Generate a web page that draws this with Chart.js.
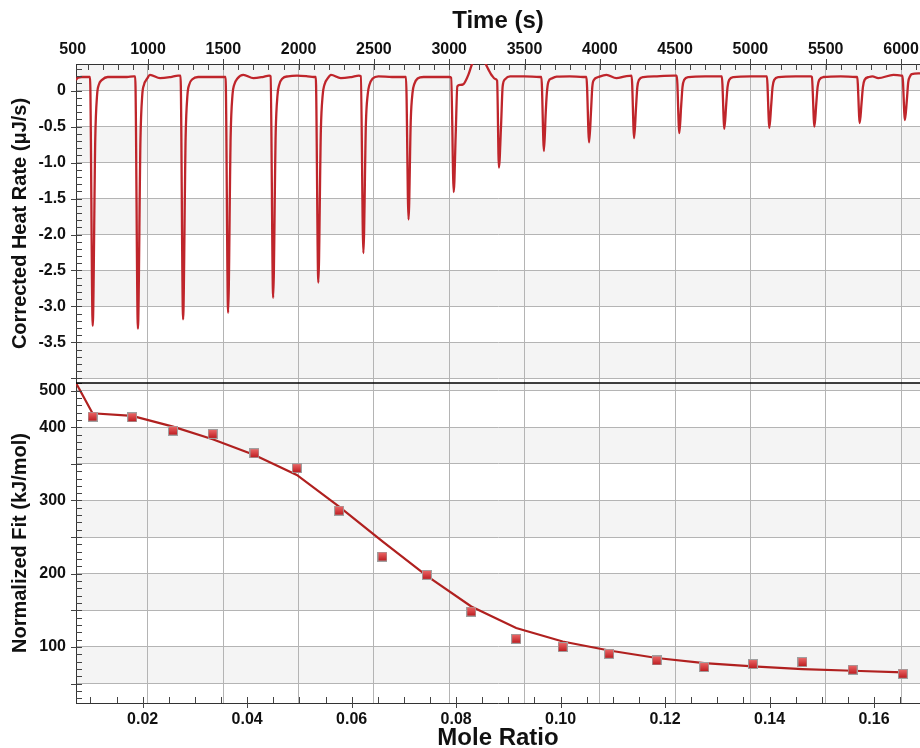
<!DOCTYPE html>
<html>
<head>
<meta charset="utf-8">
<script src="https://cdn.jsdelivr.net/npm/chart.js@4.4.1/dist/chart.umd.min.js"></script>
<style>
  html, body { margin: 0; padding: 0; background: #fff; }
  #wrap { position: relative; width: 920px; height: 748px; overflow: hidden; }
  #wrap canvas { position: absolute; left: 0; top: 0; }
</style>
</head>
<body>
<div id="wrap">
  <canvas id="heat" width="920" height="748"></canvas>
  <canvas id="fit" width="920" height="748"></canvas>
</div>
<script>
// thermogram, one line per injection (time in s, rate in uJ/s)
const heatTime = [
  522, 535, 560, 600, 615, 633, 650, 662, 673, 695, 733, 790, 860, 905,
  915, 933, 950, 962, 973, 995, 1013, 1080, 1150, 1200,
  1216, 1233, 1250, 1262, 1273, 1295, 1333, 1420, 1500,
  1515, 1532, 1549, 1561, 1572, 1594, 1633, 1700, 1760, 1805,
  1814, 1831, 1848, 1860, 1871, 1893, 1931, 1990, 2060, 2100,
  2114, 2131, 2148, 2160, 2171, 2193, 2215, 2280, 2350, 2400,
  2413, 2430, 2447, 2459, 2470, 2492, 2530, 2620, 2700,
  2713, 2730, 2745, 2757, 2768, 2790, 2830, 2920, 3000,
  3013, 3030, 3043, 3054, 3072, 3094, 3106, 3127, 3150, 3165, 3190, 3237, 3259, 3282, 3304,
  3318, 3330, 3344, 3355, 3371, 3404, 3500, 3600,
  3612, 3629, 3641, 3648, 3658, 3681, 3714, 3800, 3890,
  3911, 3929, 3942, 3950, 3961, 3990, 4044, 4110, 4170,
  4211, 4228, 4240, 4249, 4260, 4289, 4380, 4490,
  4511, 4528, 4540, 4549, 4560, 4589, 4700, 4800,
  4810, 4827, 4839, 4848, 4859, 4888, 5000, 5100,
  5109, 5126, 5138, 5147, 5158, 5187, 5300, 5400,
  5408, 5425, 5437, 5446, 5457, 5486, 5600, 5700,
  5709, 5726, 5738, 5747, 5758, 5787, 5810, 5849, 5950, 6000,
  6009, 6026, 6038, 6048, 6060, 6071, 6126
];
const heatRate = [
  0.15, 0.18, 0.19, 0.19, 0.19, -3.27, -0.66, -0.06, 0.08, 0.15, 0.19, 0.19, 0.19, 0.20,
  0.20, -3.31, -0.68, -0.06, 0.08, 0.17, 0.22, 0.175, 0.19, 0.21,
  0.21, -3.18, -0.64, -0.06, 0.08, 0.16, 0.19, 0.19, 0.19,
  0.19, -3.09, -0.62, -0.06, 0.08, 0.17, 0.22, 0.175, 0.19, 0.21,
  0.20, -2.88, -0.58, -0.06, 0.08, 0.17, 0.20, 0.21, 0.20, 0.19,
  0.19, -2.67, -0.54, -0.06, 0.08, 0.17, 0.22, 0.175, 0.19, 0.21,
  0.20, -2.26, -0.45, -0.05, 0.08, 0.17, 0.20, 0.19, 0.19,
  0.19, -1.79, -0.40, -0.02, 0.09, 0.17, 0.19, 0.19, 0.19,
  0.18, -1.41, -0.62, 0.06, 0.08, 0.09, 0.125, 0.22, 0.36, 0.42, 0.50, 0.39, 0.30, 0.215, 0.165,
  0.14, -1.07, -0.50, 0.06, 0.16, 0.20, 0.20, 0.19,
  0.19, -0.84, -0.30, -0.04, 0.12, 0.17, 0.195, 0.20, 0.19,
  0.19, -0.72, -0.27, 0.05, 0.15, 0.19, 0.22, 0.175, 0.20,
  0.21, -0.66, -0.25, 0.05, 0.15, 0.19, 0.20, 0.21,
  0.21, -0.59, -0.22, 0.05, 0.15, 0.19, 0.20, 0.20,
  0.20, -0.53, -0.20, 0.05, 0.15, 0.19, 0.20, 0.20,
  0.20, -0.52, -0.20, 0.05, 0.15, 0.19, 0.20, 0.20,
  0.19, -0.50, -0.19, 0.05, 0.15, 0.19, 0.20, 0.19,
  0.19, -0.45, -0.17, 0.05, 0.15, 0.19, 0.20, 0.175, 0.22, 0.21,
  0.21, -0.41, -0.15, 0.12, 0.20, 0.23, 0.24
];

// integrated heats per injection
const moleRatio = [0.0104, 0.0180, 0.0258, 0.0334, 0.0414, 0.0495, 0.0576, 0.0659, 0.0744, 0.0829,
  0.0915, 0.1004, 0.1093, 0.1184, 0.1275, 0.1368, 0.1463, 0.1559, 0.1655];
const injectionHeat = [414.5, 413.6, 395.4, 390.9, 364.5, 344.1, 286.2, 223.5, 198.5, 148.4,
  111.2, 99.9, 90.7, 81.6, 72.6, 76.7, 79.4, 68.9, 63.4];

// fitted model
const fitRatio = [0.0072, 0.0104, 0.0180, 0.0258, 0.0334, 0.0414, 0.0495, 0.0576, 0.0659, 0.0744,
  0.0829, 0.0915, 0.1004, 0.1093, 0.1184, 0.1275, 0.1368, 0.1463, 0.1559, 0.1655];
const fitHeat = [461, 419.1, 415.4, 400.8, 383.6, 362.2, 334.9, 291.7, 244.3, 197.0,
  155.3, 125.8, 107.5, 95.2, 84.9, 78.0, 73.4, 69.8, 67.5, 65.2];

// axes
const timeRange = [522, 6126];
const timeTicks = [500, 1000, 1500, 2000, 2500, 3000, 3500, 4000, 4500, 5000, 5500, 6000];
const heatRange = [-4.065, 0.371];
const heatTicks = [0, -0.5, -1, -1.5, -2, -2.5, -3, -3.5, -4];
const heatTickLabels = ['0', '-0.5', '-1.0', '-1.5', '-2.0', '-2.5', '-3.0', '-3.5', ''];
const ratioRange = [0.00724, 0.1688];
const ratioTicks = [0.02, 0.04, 0.06, 0.08, 0.10, 0.12, 0.14, 0.16];
const ratioTickLabels = ['0.02', '0.04', '0.06', '0.08', '0.10', '0.12', '0.14', '0.16'];
const fitRange = [23.5, 460.4];
const fitTicks = [50, 100, 150, 200, 250, 300, 350, 400, 450];
const fitTickLabels = ['', '100', '', '200', '', '300', '', '400', '500'];

const gridColor = '#b4b4b4';
const axisColor = '#333';
const bandColor = '#f4f4f4';

Chart.defaults.font.family = "'Liberation Sans', Arial, sans-serif";
Chart.defaults.font.size = 16;
Chart.defaults.font.weight = 'bold';
Chart.defaults.color = '#111';

// alternating bands behind the grid, small inward ticks and the panel separator
const frame = {
  id: 'frame',
  beforeDraw(chart, args, o) {
    const { ctx, chartArea: a } = chart;
    const b = o.bands;
    if (!b) return;
    const s = chart.scales[b.scale];
    ctx.save();
    ctx.fillStyle = bandColor;
    for (let lo = b.from; lo < s.max; lo += 2 * b.step) {
      const y0 = s.getPixelForValue(Math.max(lo, s.min));
      const y1 = s.getPixelForValue(Math.min(lo + b.step, s.max));
      ctx.fillRect(a.left, y1, a.right - a.left, y0 - y1);
    }
    ctx.restore();
  },
  afterDraw(chart, args, o) {
    const { ctx, chartArea: a } = chart;
    ctx.save();
    ctx.strokeStyle = '#444';
    ctx.lineWidth = 1;
    (o.marks || []).forEach((m) => {
      const s = chart.scales[m.scale];
      const first = Math.ceil(s.min / m.step - 1e-6);
      for (let i = first; i * m.step <= s.max + 1e-9; i++) {
        const v = i * m.step;
        const major = Math.abs(v / m.every - Math.round(v / m.every)) < 1e-6;
        const p = Math.round(s.getPixelForValue(v)) + 0.5;
        const out = major ? 5 : 0;
        ctx.beginPath();
        if (s.isHorizontal()) {
          const dir = m.edge === 'top' ? 1 : -1;
          const y0 = m.edge === 'top' ? a.top : a.bottom;
          ctx.moveTo(p, y0 - dir * out);
          ctx.lineTo(p, y0 + dir * 6);
        } else {
          ctx.moveTo(a.left - out, p);
          ctx.lineTo(a.left + 6, p);
        }
        ctx.stroke();
      }
    });
    if (o.separator) {
      ctx.strokeStyle = '#000';
      ctx.lineWidth = 1.6;
      ctx.beginPath();
      ctx.moveTo(a.left, a.top);
      ctx.lineTo(a.right, a.top);
      ctx.stroke();
    }
    ctx.restore();
  }
};

const hideOutside = (c) => (c.tick && c.tick.value < timeRange[0]) ? 'rgba(0,0,0,0)' : gridColor;
const setTicks = (values) => (s) => { s.ticks = values.map((v) => ({ value: v })); };
const fixWidth = (w) => (s) => { s.width = w; s.paddingTop = 0; s.paddingBottom = 0; };
const fixHeight = (h) => (s) => { s.height = h; s.paddingLeft = 0; s.paddingRight = 0; };

const base = {
  responsive: false,
  animation: false,
  events: [],
  plugins: { legend: { display: false }, tooltip: { enabled: false } }
};

const titleFont = (size) => ({ size: size, weight: 'bold', lineHeight: 0.8 });

// square marker with a little shading
const marker = document.createElement('canvas');
marker.width = 10;
marker.height = 10;
(function () {
  const g = marker.getContext('2d');
  g.fillStyle = '#a0a0a0';
  g.fillRect(0, 0, 10, 10);
  const gr = g.createLinearGradient(0, 1, 0, 9);
  gr.addColorStop(0, '#ea6464');
  gr.addColorStop(1, '#bf1f23');
  g.fillStyle = gr;
  g.fillRect(1, 1, 8, 8);
})();

new Chart(document.getElementById('heat'), {
  type: 'line',
  data: {
    datasets: [{
      data: heatTime.map((t, i) => ({ x: t, y: heatRate[i] })),
      borderColor: '#bf252b',
      borderWidth: 2.3,
      pointRadius: 0,
      cubicInterpolationMode: 'monotone'
    }]
  },
  options: {
    ...base,
    layout: { autoPadding: false, padding: { left: 0, right: 0, top: 0, bottom: 365 } },
    scales: {
      x: {
        type: 'linear', position: 'top', bounds: 'data',
        min: timeRange[0], max: timeRange[1],
        afterBuildTicks: setTicks(timeTicks),
        afterFit: fixHeight(64),
        grid: { color: hideOutside, drawTicks: false },
        border: { color: axisColor },
        ticks: { autoSkip: false, maxRotation: 0, padding: 5, callback: (v) => String(v) },
        title: { display: true, text: 'Time (s)', font: titleFont(24), padding: { top: 12, bottom: 0 } }
      },
      y: {
        type: 'linear', bounds: 'data',
        min: heatRange[0], max: heatRange[1],
        afterBuildTicks: setTicks(heatTicks),
        afterFit: fixWidth(76),
        grid: { color: gridColor, drawTicks: false },
        border: { color: axisColor },
        ticks: { autoSkip: false, padding: 10, callback: (v, i) => heatTickLabels[i] },
        title: { display: true, text: 'Corrected Heat Rate (μJ/s)', font: titleFont(20), padding: { top: 12, bottom: 0 } }
      }
    },
    plugins: {
      ...base.plugins,
      frame: {
        bands: { scale: 'y', from: -4, step: 0.5 },
        marks: [
          { scale: 'x', step: 100, every: 500, edge: 'top' },
          { scale: 'y', step: 0.1, every: 0.5 }
        ]
      }
    }
  },
  plugins: [frame]
});

new Chart(document.getElementById('fit'), {
  type: 'scatter',
  data: {
    datasets: [{
      data: moleRatio.map((r, i) => ({ x: r, y: injectionHeat[i] })),
      pointStyle: marker,
      pointRadius: 5,
      xAxisID: 'xm',
      yAxisID: 'y'
    }, {
      type: 'line',
      data: fitRatio.map((r, i) => ({ x: r, y: fitHeat[i] })),
      borderColor: '#b0201f',
      borderWidth: 2.2,
      pointRadius: 0,
      tension: 0,
      showLine: true,
      xAxisID: 'xm',
      yAxisID: 'y'
    }]
  },
  options: {
    ...base,
    layout: { autoPadding: false, padding: { left: 0, right: 0, top: 383, bottom: 0 } },
    scales: {
      xt: {
        type: 'linear', position: 'top', bounds: 'data',
        min: timeRange[0], max: timeRange[1],
        afterBuildTicks: setTicks(timeTicks),
        afterFit: fixHeight(0),
        grid: { color: hideOutside, drawTicks: false },
        border: { display: false },
        ticks: { display: false }
      },
      xm: {
        type: 'linear', position: 'bottom', bounds: 'data',
        min: ratioRange[0], max: ratioRange[1],
        afterBuildTicks: setTicks(ratioTicks),
        afterFit: fixHeight(45),
        grid: { drawOnChartArea: false, drawTicks: false },
        border: { color: axisColor },
        ticks: { autoSkip: false, maxRotation: 0, padding: 7, callback: (v, i) => ratioTickLabels[i] },
        title: { display: true, text: 'Mole Ratio', font: titleFont(24), padding: 0 }
      },
      y: {
        type: 'linear', bounds: 'data',
        min: fitRange[0], max: fitRange[1],
        afterBuildTicks: setTicks(fitTicks),
        afterFit: fixWidth(76),
        grid: { color: gridColor, drawTicks: false },
        border: { color: axisColor },
        ticks: { autoSkip: false, padding: 10, callback: (v, i) => fitTickLabels[i] },
        title: { display: true, text: 'Normalized Fit (kJ/mol)', font: titleFont(20), padding: { top: 12, bottom: 0 } }
      }
    },
    plugins: {
      ...base.plugins,
      frame: {
        bands: { scale: 'y', from: 50, step: 50 },
        marks: [
          { scale: 'xm', step: 0.005, every: 0.02, edge: 'bottom' },
          { scale: 'y', step: 10, every: 50 }
        ],
        separator: true
      }
    }
  },
  plugins: [frame]
});
</script>
</body>
</html>
